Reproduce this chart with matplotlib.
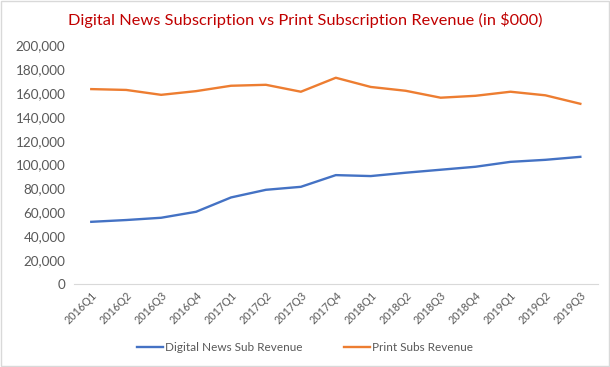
import matplotlib.pyplot as plt
from matplotlib.patches import Rectangle

quarters = ["2016Q1", "2016Q2", "2016Q3", "2016Q4", "2017Q1", "2017Q2", "2017Q3", "2017Q4",
            "2018Q1", "2018Q2", "2018Q3", "2018Q4", "2019Q1", "2019Q2", "2019Q3"]
digital = [52100, 53600, 55500, 60500, 72500, 78900, 81400, 91200,
           90400, 93200, 95700, 98200, 102300, 104000, 106500]
print_rev = [163200, 162500, 158400, 161500, 166000, 166800, 161000, 172700,
             165000, 161800, 156000, 157600, 161000, 158000, 150900]

plt.rcParams["font.family"] = ["Lato", "DejaVu Sans"]

fig = plt.figure(figsize=(6.1, 3.67), dpi=100)
ax = fig.add_axes([0.121, 0.226, 0.859, 0.651])
x = range(len(quarters))
ax.plot(x, digital, color="#4472C4", lw=1.7, label="Digital News Sub Revenue")
ax.plot(x, print_rev, color="#ED7D31", lw=1.7, label="Print Subs Revenue")

ax.set_xlim(-0.5, len(quarters) - 0.5)
ax.set_ylim(0, 200000)
ax.set_yticks(range(0, 200001, 20000))
ax.set_yticklabels([f"{v:,}" for v in range(0, 200001, 20000)], fontsize=9.7, color="#595959")
ax.set_xticks(list(x))
ax.set_xticklabels(quarters, rotation=45, ha="right", rotation_mode="anchor", fontsize=7.8, color="#595959")
ax.tick_params(length=0, pad=6)
ax.tick_params(axis="x", pad=4)
for s in ["top", "right", "left"]:
    ax.spines[s].set_visible(False)
ax.spines["bottom"].set_color("#d9d9d9")

fig.text(0.5, 0.945, "Digital News Subscription vs Print Subscription Revenue (in $000)",
         ha="center", va="center", fontsize=11.8, color="#C00000")
fig.legend(loc="center", bbox_to_anchor=(0.5, 0.052), ncol=2, frameon=False,
           fontsize=8.5, handlelength=2.2, handletextpad=0.2, columnspacing=3.5,
           labelcolor="#595959")
fig.patches.append(Rectangle((0.002, 0.003), 0.996, 0.994, transform=fig.transFigure,
                             fill=False, edgecolor="#d9d9d9", lw=1))

fig.savefig("out.png", dpi=100)
